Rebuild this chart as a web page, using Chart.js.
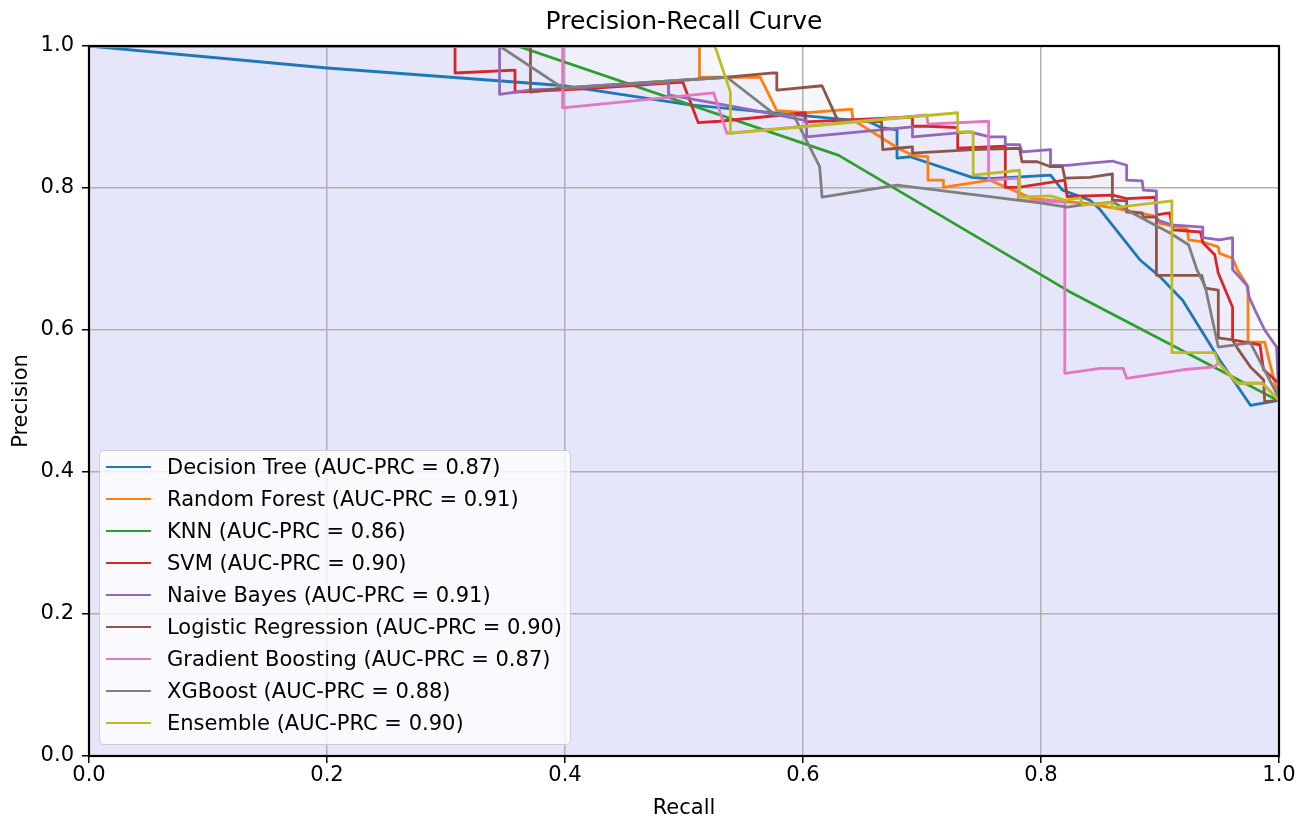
<!DOCTYPE html>
<html>
<head>
<meta charset="utf-8">
<title>Precision-Recall Curve</title>
<script src="https://cdn.jsdelivr.net/npm/chart.js@4.4.0/dist/chart.umd.min.js"></script>
<style>
  html, body { margin: 0; padding: 0; background: #fff; }
  #wrap { position: relative; width: 1307px; height: 821px; }
  #legend {
    position: absolute; left: 99px; top: 450px; width: 472px; height: 295px;
    box-sizing: border-box; border: 1px solid #ccc; border-radius: 5px;
    background: rgba(255, 255, 255, 0.8);
    font-family: "DejaVu Sans", sans-serif; font-size: 21px; color: #000;
  }
  .row { height: 32px; display: flex; align-items: center; white-space: nowrap; }
  .swatch { width: 45px; height: 2.8px; margin-left: 6px; margin-right: 16px; }
</style>
</head>
<body>
<div id="wrap">
  <canvas id="prChart" width="1307" height="821"></canvas>
  <div id="legend"></div>
</div>
<script>
// model names, scores and colours
const models = ["Decision Tree", "Random Forest", "KNN", "SVM", "Naive Bayes",
  "Logistic Regression", "Gradient Boosting", "XGBoost", "Ensemble"];
const aucPrc = [0.87, 0.91, 0.86, 0.90, 0.91, 0.90, 0.87, 0.88, 0.90];
const colors = ["#1f77b4", "#ff7f0e", "#2ca02c", "#d62728", "#9467bd",
  "#8c564b", "#e377c2", "#7f7f7f", "#bcbd22"];
const axisTicks = [0, 0.2, 0.4, 0.6, 0.8, 1.0];

// curves (recall / precision)
const dtRecall = [0, 0.2, 0.4, 0.505, 0.656, 0.666, 0.679, 0.679, 0.690, 0.742, 0.757, 0.808, 0.818, 0.841, 0.850, 0.883, 0.900, 0.919, 0.950, 0.976, 1.0];
const dtPrecision = [1.0, 0.969, 0.944, 0.917, 0.893, 0.885, 0.882, 0.842, 0.844, 0.815, 0.813, 0.818, 0.797, 0.783, 0.769, 0.699, 0.675, 0.642, 0.558, 0.494, 0.501];

const rfRecall = [0, 0.513, 0.513, 0.564, 0.578, 0.603, 0.641, 0.642, 0.680, 0.692, 0.705, 0.705, 0.718, 0.718, 0.757, 0.793, 0.840, 0.873, 0.897, 0.900, 0.923, 0.924, 0.936, 0.949, 0.950, 0.961, 0.965, 0.974, 0.974, 0.988, 0.998, 1.0];
const rfPrecision = [1.0, 1.0, 0.956, 0.956, 0.909, 0.906, 0.911, 0.896, 0.856, 0.846, 0.844, 0.811, 0.811, 0.801, 0.811, 0.785, 0.778, 0.768, 0.760, 0.750, 0.742, 0.727, 0.724, 0.717, 0.708, 0.701, 0.685, 0.661, 0.583, 0.583, 0.515, 0.510];

const knnRecall = [0, 0.36, 0.63, 0.824, 1.0];
const knnPrecision = [1.0, 1.0, 0.846, 0.654, 0.5];

const svmRecall = [0, 0.3076, 0.3076, 0.358, 0.358, 0.42, 0.499, 0.512, 0.530, 0.602, 0.602, 0.692, 0.692, 0.705, 0.730, 0.730, 0.770, 0.770, 0.781, 0.808, 0.820, 0.822, 0.860, 0.872, 0.896, 0.897, 0.908, 0.911, 0.934, 0.936, 0.946, 0.949, 0.961, 0.961, 0.984, 0.987, 1.0];
const svmPrecision = [1.0, 1.0, 0.962, 0.966, 0.935, 0.940, 0.949, 0.892, 0.894, 0.906, 0.893, 0.900, 0.887, 0.887, 0.885, 0.856, 0.859, 0.801, 0.801, 0.808, 0.811, 0.788, 0.790, 0.785, 0.787, 0.762, 0.765, 0.741, 0.738, 0.723, 0.706, 0.680, 0.632, 0.586, 0.579, 0.544, 0.525];

const nbRecall = [0, 0.345, 0.345, 0.37, 0.40, 0.487, 0.487, 0.55, 0.603, 0.603, 0.692, 0.692, 0.740, 0.757, 0.770, 0.770, 0.782, 0.784, 0.808, 0.808, 0.822, 0.841, 0.860, 0.872, 0.872, 0.885, 0.886, 0.897, 0.897, 0.910, 0.936, 0.936, 0.950, 0.961, 0.961, 0.973, 0.975, 0.981, 0.988, 0.998, 1.0];
const nbPrecision = [1.0, 1.0, 0.932, 0.938, 0.940, 0.949, 0.931, 0.912, 0.895, 0.872, 0.886, 0.872, 0.879, 0.872, 0.872, 0.861, 0.861, 0.851, 0.854, 0.832, 0.832, 0.835, 0.838, 0.832, 0.811, 0.810, 0.797, 0.796, 0.755, 0.748, 0.745, 0.730, 0.727, 0.730, 0.685, 0.663, 0.646, 0.624, 0.600, 0.576, 0.500];

const lrRecall = [0, 0.371, 0.371, 0.40, 0.536, 0.575, 0.578, 0.578, 0.616, 0.629, 0.666, 0.667, 0.679, 0.692, 0.692, 0.743, 0.782, 0.784, 0.797, 0.808, 0.818, 0.820, 0.841, 0.860, 0.860, 0.872, 0.872, 0.885, 0.886, 0.897, 0.897, 0.935, 0.938, 0.949, 0.949, 0.961, 0.966, 0.976, 0.987, 0.988, 1.0];
const lrPrecision = [1.0, 1.0, 0.935, 0.941, 0.956, 0.962, 0.962, 0.938, 0.944, 0.896, 0.893, 0.854, 0.856, 0.858, 0.849, 0.854, 0.856, 0.837, 0.837, 0.830, 0.830, 0.814, 0.815, 0.820, 0.783, 0.782, 0.766, 0.765, 0.759, 0.759, 0.677, 0.677, 0.659, 0.656, 0.589, 0.586, 0.572, 0.548, 0.530, 0.499, 0.501];

const gbRecall = [0, 0.398, 0.398, 0.525, 0.536, 0.704, 0.705, 0.756, 0.756, 0.781, 0.781, 0.820, 0.820, 0.850, 0.869, 0.872, 0.919, 0.946, 0.949, 0.965, 0.986, 1.0];
const gbPrecision = [1.0, 1.0, 0.913, 0.934, 0.877, 0.903, 0.890, 0.894, 0.811, 0.814, 0.783, 0.780, 0.539, 0.546, 0.546, 0.532, 0.544, 0.548, 0.554, 0.525, 0.525, 0.501];

const xgbRecall = [0, 0.345, 0.398, 0.536, 0.576, 0.592, 0.614, 0.616, 0.679, 0.799, 0.822, 0.833, 0.861, 0.872, 0.908, 0.924, 0.931, 0.938, 0.949, 0.976, 1.0];
const xgbPrecision = [1.0, 1.0, 0.941, 0.956, 0.904, 0.903, 0.830, 0.787, 0.804, 0.779, 0.773, 0.776, 0.780, 0.769, 0.737, 0.720, 0.685, 0.661, 0.576, 0.582, 0.504];

const ensRecall = [0, 0.526, 0.539, 0.539, 0.730, 0.730, 0.743, 0.743, 0.782, 0.782, 0.808, 0.820, 0.833, 0.835, 0.860, 0.860, 0.910, 0.910, 0.946, 0.949, 0.965, 0.986, 1.0];
const ensPrecision = [1.0, 1.0, 0.935, 0.877, 0.906, 0.879, 0.879, 0.818, 0.825, 0.787, 0.789, 0.783, 0.786, 0.776, 0.779, 0.772, 0.782, 0.568, 0.568, 0.554, 0.525, 0.525, 0.501];

const curves = [
  [dtRecall, dtPrecision], [rfRecall, rfPrecision], [knnRecall, knnPrecision],
  [svmRecall, svmPrecision], [nbRecall, nbPrecision], [lrRecall, lrPrecision],
  [gbRecall, gbPrecision], [xgbRecall, xgbPrecision], [ensRecall, ensPrecision]
];

Chart.defaults.font.family = '"DejaVu Sans", sans-serif';
Chart.defaults.color = "#000";

const datasets = curves.map(([rec, prec], i) => ({
  label: `${models[i]} (AUC-PRC = ${aucPrc[i].toFixed(2)})`,
  data: rec.map((r, j) => ({ x: r, y: prec[j] })),
  borderColor: colors[i],
  backgroundColor: "rgba(230, 230, 250, 0.35)",
  fill: "origin",
  borderWidth: 2.8,
  borderJoinStyle: "round",
  pointRadius: 0,
  tension: 0,
  clip: 0,
  order: curves.length - i
}));

// axes box on all four sides, drawn over the curves
const frame = {
  id: "frame",
  afterDatasetsDraw(chart) {
    const { ctx, chartArea: a } = chart;
    ctx.save();
    ctx.strokeStyle = "#000";
    ctx.lineWidth = 2.2;
    ctx.strokeRect(a.left, a.top, a.right - a.left, a.bottom - a.top);
    ctx.restore();
  }
};

function axis(titleText, titlePad, tickPad, fit) {
  return {
    type: "linear",
    min: 0,
    max: 1,
    afterBuildTicks: s => { s.ticks = axisTicks.map(v => ({ value: v })); },
    afterFit: fit,
    ticks: {
      callback: v => v.toFixed(1),
      font: { size: 21 },
      padding: tickPad
    },
    grid: {
      color: "#b0b0b0",
      lineWidth: 1.5,
      tickColor: "#000",
      tickWidth: 1.5,
      tickLength: 7
    },
    border: { color: "#000", width: 1.5 },
    title: { display: true, text: titleText, font: { size: 21 }, padding: titlePad }
  };
}

new Chart(document.getElementById("prChart"), {
  type: "line",
  data: { datasets },
  plugins: [frame],
  options: {
    responsive: false,
    devicePixelRatio: 1,
    animation: false,
    layout: { padding: { left: 0, right: 28, top: 0, bottom: 0 } },
    scales: {
      x: axis("Recall", { top: 0, bottom: 0 }, 0, s => { s.height = 65; }),
      y: axis("Precision", { top: 8.5, bottom: 0 }, 8, s => { s.width = 89; })
    },
    plugins: {
      filler: { drawTime: "beforeDraw" },
      legend: { display: false },
      tooltip: { enabled: false },
      title: {
        display: true,
        text: "Precision-Recall Curve",
        fullSize: false,
        font: { size: 25, weight: "normal" },
        padding: { top: 7, bottom: 9 }
      }
    }
  }
});

// legend box in the lower left of the axes
const legendBox = document.getElementById("legend");
datasets.forEach((d, i) => {
  const row = document.createElement("div");
  row.className = "row";
  row.innerHTML = `<span class="swatch" style="background:${colors[i]}"></span><span>${d.label}</span>`;
  legendBox.appendChild(row);
});
</script>
</body>
</html>
